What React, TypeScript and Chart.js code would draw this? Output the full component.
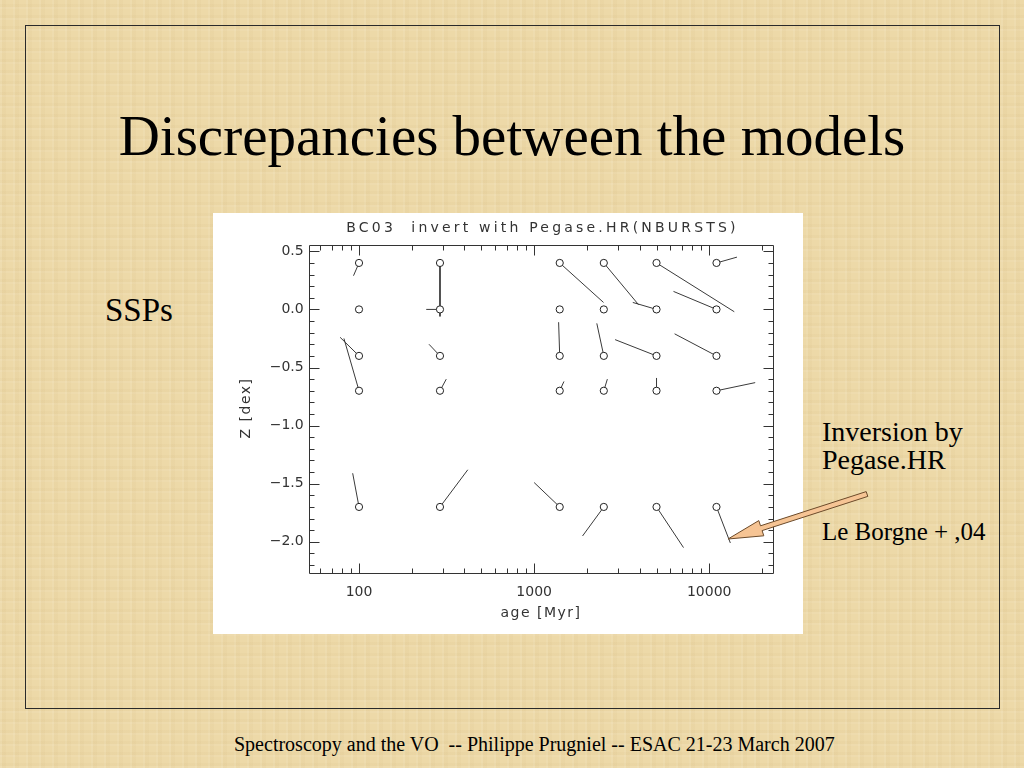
import React, { useEffect, useRef } from "react";
import { Chart, registerables } from "chart.js";

Chart.register(...registerables);

// Model grid (BC03 SSPs)
const ages = [100, 290, 1400, 2500, 5000, 11000];
const metallicities = [0.4, 0.0, -0.4, -0.7, -1.7];

// Inverted results (Pegase.HR), row-major: one row per metallicity, one column per age
const invAge = [
  93, 290, 2490, 3950, 13900, 14400,
  95, 242, 1400, 2500, 3660, 6250,
  78, 251, 1380, 2280, 2900, 6340,
  82, 315, 1480, 2620, 5000, 18300,
  92, 418, 1000, 1890, 7130, 13200,
];
const invZ = [
  0.29, -0.06, 0.06, 0.04, -0.02, 0.45,
  0.0, 0.0, 0.0, 0.0, 0.06, 0.155,
  -0.24, -0.3, -0.11, -0.12, -0.26, -0.21,
  -0.25, -0.6, -0.62, -0.6, -0.59, -0.63,
  -1.41, -1.38, -1.49, -1.95, -2.05, -2.01,
];

const xTickValues = [100, 1000, 10000];
const yTickValues = [0.5, 0.0, -0.5, -1.0, -1.5, -2.0];
const X_MIN = 51.6;
const X_MAX = 23220;
const Y_MIN = -2.266;
const Y_MAX = 0.557;

const chartTitle = "BC03  invert with Pegase.HR(NBURSTS)";
const xTitle = "age [Myr]";
const yTitle = "Z [dex]";

const INK = "#333333";
const FONT = "'DejaVu Sans', sans-serif";

const idlAxes = {
  id: "idlAxes",
  afterDatasetsDraw(chart: any) {
    const { ctx, chartArea: a, scales } = chart;
    const x = scales.x;
    const y = scales.y;
    const L = Math.round(a.left) + 0.5;
    const R = Math.round(a.right) + 0.5;
    const T = Math.round(a.top) + 0.5;
    const B = Math.round(a.bottom) + 0.5;
    ctx.save();
    ctx.strokeStyle = INK;
    ctx.lineWidth = 1;
    ctx.beginPath();
    ctx.rect(L, T, R - L, B - T);
    // y ticks (left & right)
    for (let i = -23; i <= 5; i++) {
      const v = i / 10;
      if (v < Y_MIN || v > Y_MAX) continue;
      const major = i % 5 === 0;
      const len = major ? 10 : 5;
      const p = Math.round(y.getPixelForValue(v)) + 0.5;
      ctx.moveTo(L, p);
      ctx.lineTo(L + len, p);
      ctx.moveTo(R, p);
      ctx.lineTo(R - len, p);
    }
    // x ticks (bottom & top)
    for (let d = 1; d <= 4; d++) {
      for (let k = 1; k <= 9; k++) {
        const v = k * Math.pow(10, d);
        if (v < X_MIN || v > X_MAX) continue;
        const len = k === 1 ? 10 : 5;
        const p = Math.round(x.getPixelForValue(v)) + 0.5;
        ctx.moveTo(p, B);
        ctx.lineTo(p, B - len);
        ctx.moveTo(p, T);
        ctx.lineTo(p, T + len);
      }
    }
    ctx.stroke();

    // titles
    ctx.fillStyle = INK;
    ctx.font = `14px ${FONT}`;
    ctx.textAlign = "center";
    ctx.textBaseline = "middle";
    const cx = (a.left + a.right) / 2;
    (ctx as any).letterSpacing = "3.2px";
    ctx.fillText(chartTitle, cx + 1.5, 15);
    (ctx as any).letterSpacing = "1.5px";
    ctx.fillText(xTitle, cx, 400);
    ctx.translate(33.5, 195);
    ctx.rotate(-Math.PI / 2);
    ctx.fillText(yTitle, 0, 0);
    ctx.restore();
  },
};

function fmtY(v: number) {
  const s = Math.abs(v).toFixed(1);
  return v < -1e-9 ? "\u2212" + s : s;
}

function ChartBox() {
  const ref = useRef<HTMLCanvasElement | null>(null);
  useEffect(() => {
    if (!ref.current) return;
    const pts: { x: number; y: number }[] = [];
    const segDatasets: any[] = [];
    metallicities.forEach((z, i) => {
      ages.forEach((age, j) => {
        const k = i * ages.length + j;
        pts.push({ x: age, y: z });
        segDatasets.push({
          data: [
            { x: age, y: z },
            { x: invAge[k], y: invZ[k] },
          ],
          showLine: true,
          pointRadius: 0,
          borderColor: "#3a3a3a",
          borderWidth: 1,
          order: 2,
        });
      });
    });
    const chart = new Chart(ref.current, {
      type: "scatter",
      data: {
        datasets: [
          {
            data: pts,
            pointRadius: 3.6,
            pointBorderWidth: 1,
            pointBorderColor: "#222",
            pointBackgroundColor: "#ffffff",
            showLine: false,
            order: 1,
          } as any,
          ...segDatasets,
        ],
      },
      options: {
        animation: false,
        responsive: false,
        devicePixelRatio: 1,
        events: [],
        layout: { padding: { top: 31.7, right: 29.7, left: 0, bottom: 0 } },
        plugins: {
          legend: { display: false },
          tooltip: { enabled: false },
          title: { display: false },
        },
        scales: {
          x: {
            type: "logarithmic",
            min: X_MIN,
            max: X_MAX,
            grid: { display: false, drawTicks: false },
            border: { display: false },
            afterBuildTicks: (s: any) => {
              s.ticks = xTickValues.map((v) => ({ value: v }));
            },
            afterFit: (s: any) => {
              s.height = 61.3;
            },
            ticks: {
              callback: (v: any) => String(v),
              font: { family: FONT, size: 14 },
              color: INK,
              padding: 11,
              maxRotation: 0,
              autoSkip: false,
            },
          },
          y: {
            type: "linear",
            min: Y_MIN,
            max: Y_MAX,
            grid: { display: false, drawTicks: false },
            border: { display: false },
            afterBuildTicks: (s: any) => {
              s.ticks = yTickValues.map((v) => ({ value: v }));
            },
            afterFit: (s: any) => {
              s.width = 95.7;
            },
            ticks: {
              callback: (v: any) => fmtY(Number(v)),
              font: { family: FONT, size: 14 },
              color: INK,
              padding: 5,
              autoSkip: false,
            },
          },
        },
      } as any,
      plugins: [idlAxes],
    });
    return () => chart.destroy();
  }, []);
  return <canvas ref={ref} width={590} height={421} style={{ display: "block" }} />;
}

const serif = "'Liberation Serif', 'Times New Roman', serif";

function Txt(props: { left: number; top: number; size: number; children: React.ReactNode }) {
  return (
    <div
      style={{
        position: "absolute",
        left: props.left,
        top: props.top,
        fontFamily: serif,
        fontSize: props.size,
        lineHeight: 1,
        whiteSpace: "pre",
        color: "#000",
      }}
    >
      {props.children}
    </div>
  );
}

export default function App() {
  const bg =
    "repeating-linear-gradient(90deg, rgba(255,255,255,0.07) 0px, rgba(255,255,255,0.07) 2px, rgba(160,120,50,0.035) 2px, rgba(160,120,50,0.035) 6px, rgba(0,0,0,0) 6px, rgba(0,0,0,0) 13px)," +
    "repeating-linear-gradient(0deg, rgba(255,255,255,0.06) 0px, rgba(255,255,255,0.06) 2px, rgba(160,120,50,0.035) 2px, rgba(160,120,50,0.035) 5px, rgba(0,0,0,0) 5px, rgba(0,0,0,0) 11px)";
  return (
    <div
      style={{
        position: "fixed",
        left: 0,
        top: 0,
        width: 1024,
        height: 768,
        overflow: "hidden",
        backgroundColor: "#edd9a8",
        backgroundImage: bg,
      }}
    >
      <div
        style={{
          position: "absolute",
          left: 25,
          top: 25,
          width: 975,
          height: 684,
          boxSizing: "border-box",
          border: "1px solid #2a2a2a",
        }}
      />
      <Txt left={0} top={106.6} size={57}>
        <div style={{ width: 1024, textAlign: "center" }}>Discrepancies between the models</div>
      </Txt>
      <Txt left={105} top={293.5} size={33}>SSPs</Txt>
      <Txt left={822} top={417.5} size={28}>Inversion by</Txt>
      <Txt left={822} top={446} size={28}>Pegase.HR</Txt>
      <Txt left={822} top={519} size={25}>Le Borgne + ,04</Txt>
      <Txt left={234} top={734.3} size={20}>
        Spectroscopy and the VO  -- Philippe Prugniel -- ESAC 21-23 March 2007
      </Txt>
      <div
        style={{
          position: "absolute",
          left: 213,
          top: 213,
          width: 590,
          height: 421,
          background: "#ffffff",
        }}
      >
        <ChartBox />
      </div>
      <svg
        width={1024}
        height={768}
        style={{ position: "absolute", left: 0, top: 0, pointerEvents: "none" }}
      >
        <polygon
          points="728,539 758.8,520.6 760.5,525.8 866.2,491.6 867.8,496.4 762.1,530.6 763.8,535.8"
          fill="#f6c494"
          stroke="#6b4a2a"
          strokeWidth={1}
          strokeLinejoin="miter"
        />
      </svg>
    </div>
  );
}
